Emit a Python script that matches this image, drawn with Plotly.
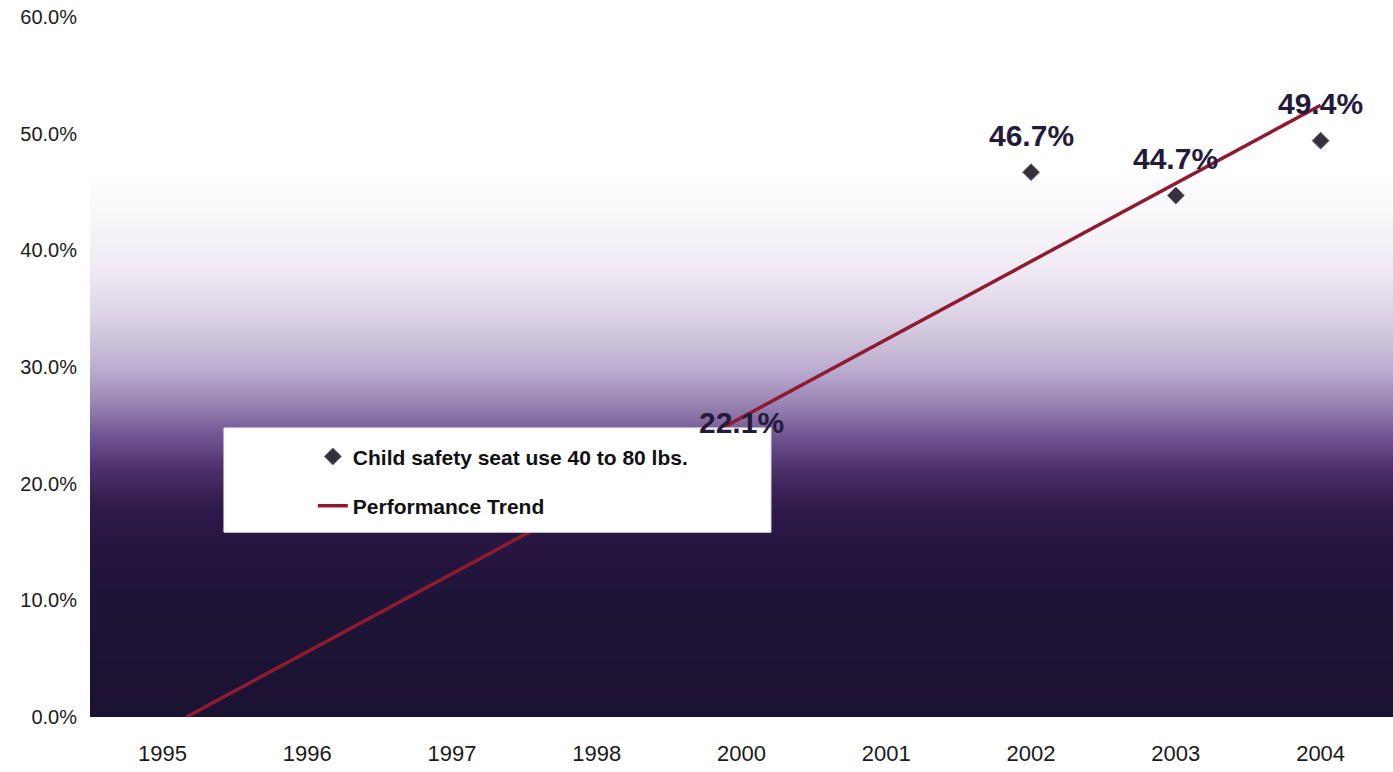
import numpy as np
import plotly.graph_objects as go

# ---- data ----
years = ["1995", "1996", "1997", "1998", "2000", "2001", "2002", "2003", "2004"]
data_years = ["2000", "2002", "2003", "2004"]
seat_use = [22.1, 46.7, 44.7, 49.4]          # Child safety seat use 40 to 80 lbs. (%)
y_ticks = [0, 10, 20, 30, 40, 50, 60]

# ---- styling ----
GRADIENT = [(0, "#1b1331"), (10, "#1e1437"), (15, "#261641"), (18, "#30194b"),
            (21, "#4a2d66"), (24, "#6f5290"), (27, "#9a86b4"), (30, "#bcaed0"),
            (34, "#d9d0e3"), (38, "#ede8f2"), (43, "#f9f7fa"), (47, "#ffffff"),
            (60, "#ffffff")]
MARKER_COLOR = "#35303d"
TREND_COLOR = "#8e1b30"
LABEL_COLOR = "#241a3a"

xi = [years.index(y) for y in data_years]

# linear performance trend (least squares over the observed points)
slope, intercept = np.polyfit(xi, seat_use, 1)
x_start = -intercept / slope
trend_x = [x_start, len(years) - 1]
trend_y = [slope * x + intercept for x in trend_x]

fig = go.Figure()

# background gradient of the plot area
lev = np.linspace(0, 60, 241)
fig.add_trace(go.Heatmap(
    x=[-0.5, len(years) - 0.5], y=lev, z=[[v, v] for v in lev],
    zmin=0, zmax=60, zsmooth="best", showscale=False, hoverinfo="skip",
    colorscale=[[p / 60, c] for p, c in GRADIENT], showlegend=False))

fig.add_trace(go.Scatter(
    x=xi, y=seat_use, mode="markers", name="Child safety seat use 40 to 80 lbs.",
    marker=dict(symbol="diamond", size=13, color=MARKER_COLOR,
                line=dict(width=1, color="#6a6470")),
    legendgroup="a"))

fig.add_trace(go.Scatter(
    x=trend_x, y=trend_y, mode="lines", name="Performance Trend",
    line=dict(color=TREND_COLOR, width=3.5), legendgroup="b"))

# legend white box
fig.add_shape(type="rect", xref="paper", yref="paper",
              x0=0.1028, x1=0.5226, y0=0.264, y1=0.413,
              fillcolor="white", line=dict(color="#e6e6e6", width=1), layer="above")

for x, v in zip(xi, seat_use):
    fig.add_annotation(x=x, y=v, text=f"{v:.1f}%", showarrow=False, yshift=37,
                       font=dict(family="Arial, Liberation Sans", size=30,
                                 color=LABEL_COLOR, weight="bold"))

fig.update_layout(
    width=1393, height=772,
    margin=dict(l=90, r=0, t=17, b=55),
    paper_bgcolor="white", plot_bgcolor="white",
    showlegend=True,
    legend=dict(x=0.171, y=0.401, xanchor="left", yanchor="top",
                bgcolor="rgba(0,0,0,0)", borderwidth=0, tracegroupgap=19,
                font=dict(family="Arial, Liberation Sans", size=21,
                          color="#111111", weight="bold")),
    xaxis=dict(range=[-0.5, len(years) - 0.5], tickmode="array",
               tickvals=list(range(len(years))), ticktext=years,
               showgrid=False, zeroline=False, showline=False, ticks="",
               ticklabelstandoff=21,
               tickfont=dict(family="Liberation Sans Narrow, Arial Narrow, Arial",
                             size=22, color="#1a1a1a")),
    yaxis=dict(range=[0, 60], tickmode="array", tickvals=y_ticks,
               ticktext=[f"{t:.1f}%" for t in y_ticks],
               showgrid=False, zeroline=False, showline=False, ticks="",
               ticklabelstandoff=12,
               tickfont=dict(family="Arial, Liberation Sans", size=20,
                             color="#1a1a1a")),
)

fig.write_html("out.html")
